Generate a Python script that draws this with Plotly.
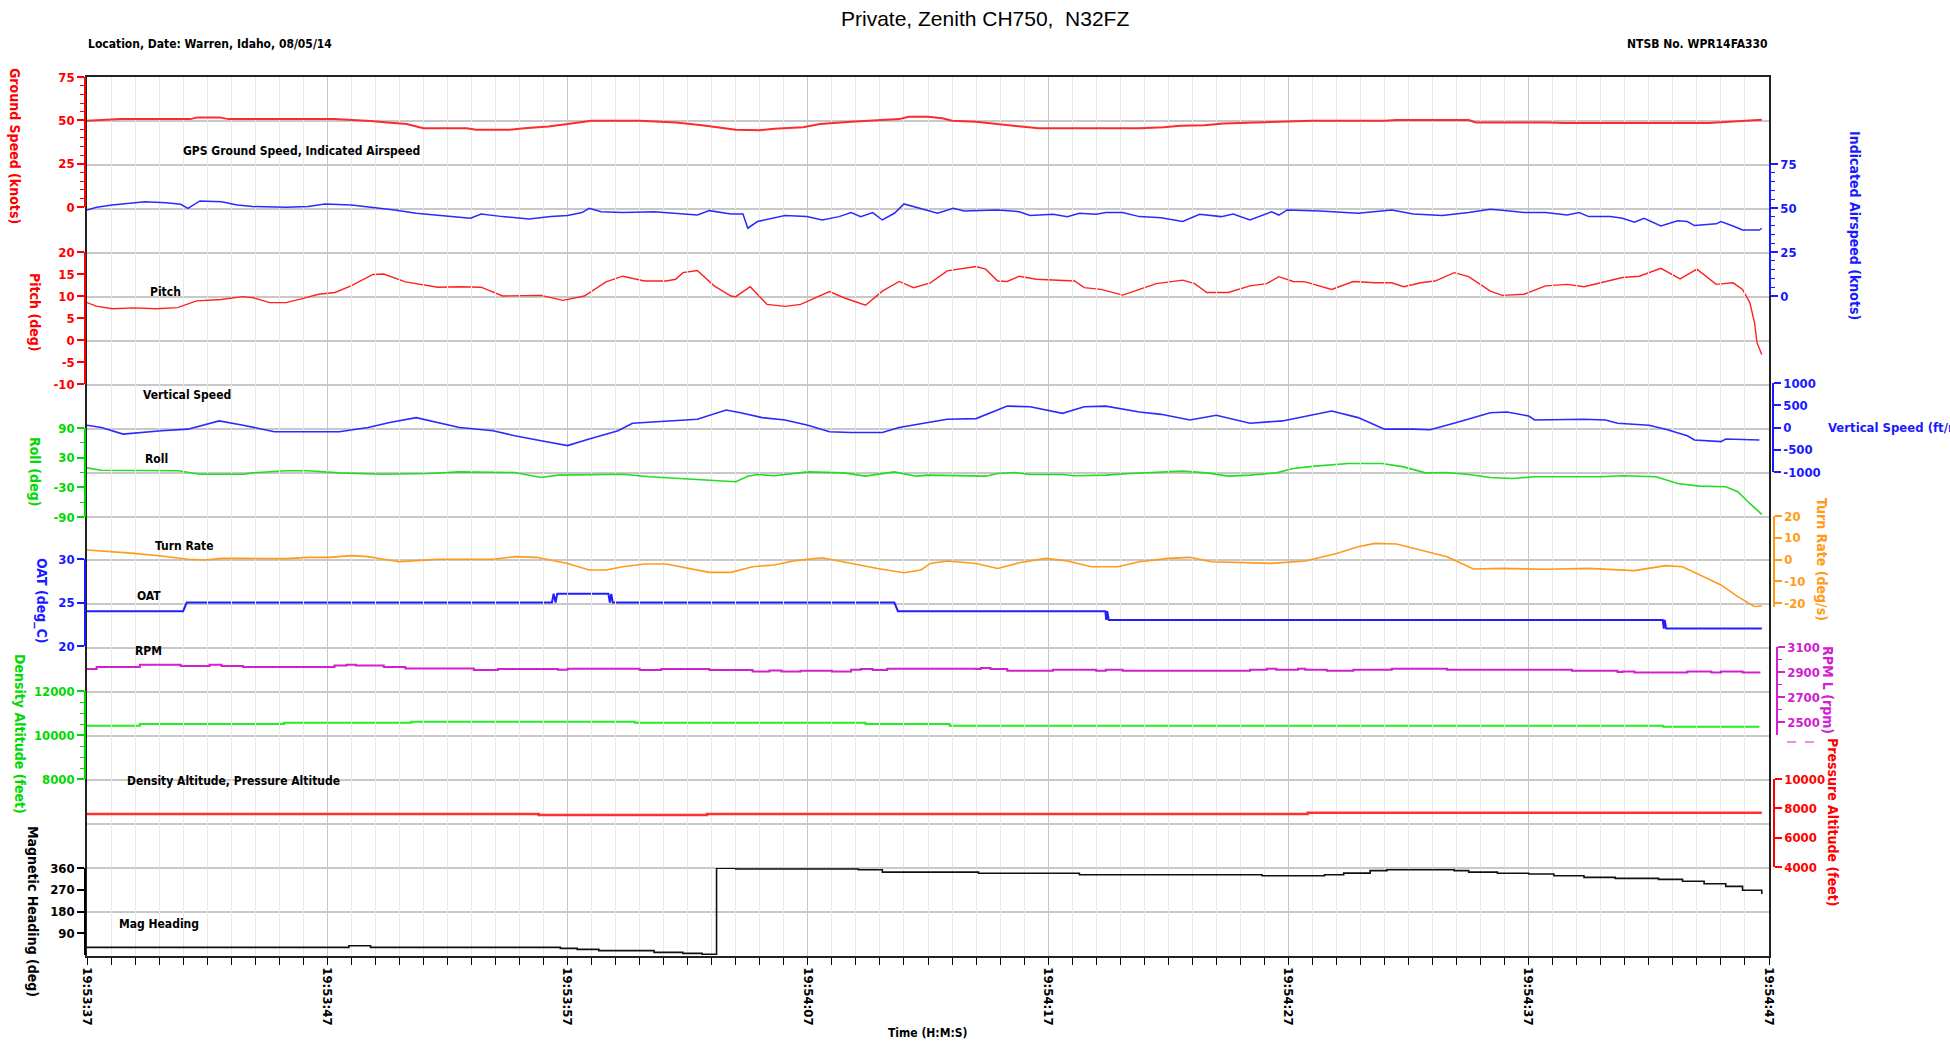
import plotly.graph_objects as go

# ---------------- DATA (time in seconds after 19:53:37) ----------------
time_tick_vals = [0, 10, 20, 30, 40, 50, 60, 70]
time_tick_labels = ["19:53:37", "19:53:47", "19:53:57", "19:54:07",
                    "19:54:17", "19:54:27", "19:54:37", "19:54:47"]

gs_time = [0, 1.4, 4.3, 4.6, 5.5, 5.9, 10.3, 11.2, 11.8, 12.5, 13.3, 14.0, 15.8, 16.2, 17.6,
           18.2, 19.2, 20.0, 21.0, 23.0, 24.5, 25.6, 26.2, 27.0, 28.0, 28.6, 29.8, 30.5, 31.8,
           33.0, 33.8, 34.2, 35.0, 35.6, 36.0, 37.0, 38.0, 39.0, 39.6, 43.8, 44.8, 45.5, 46.5,
           47.3, 48.6, 49.8, 51.0, 54.0, 54.5, 57.5, 57.8, 60.8, 61.5, 67.5, 68.5, 69.7]
gs_knots = [49.8, 50.7, 50.7, 51.7, 51.7, 50.7, 50.7, 50.2, 49.6, 48.8, 47.9, 45.4, 45.4, 44.6, 44.6,
            45.4, 46.5, 47.9, 49.8, 49.8, 48.8, 47.2, 46.0, 44.6, 44.3, 45.2, 46.0, 47.9, 49.2,
            50.0, 50.7, 52.0, 52.0, 51.2, 49.8, 49.2, 47.9, 46.4, 45.4, 45.4, 46.0, 46.9, 47.2,
            48.2, 48.8, 49.2, 49.8, 49.8, 50.2, 50.2, 48.8, 48.8, 48.4, 48.4, 49.2, 50.4]

ias_time = [0, 0.4, 1.05, 1.7, 2.4, 3.3, 3.9, 4.2, 4.7, 5.6, 6.25, 6.9, 8.3, 9.2, 9.9, 11.0, 11.9,
            12.8, 13.7, 14.6, 15.5, 15.96, 16.4, 17.3, 18.4, 19.3, 20.0, 20.6, 20.9, 21.4, 22.3,
            23.6, 24.5, 25.4, 25.9, 26.8, 27.3, 27.5, 27.9, 29.05, 29.95, 30.6, 31.3, 31.8, 32.2,
            32.7, 33.1, 33.6, 34.0, 34.5, 35.0, 35.4, 36.05, 36.5, 37.9, 38.8, 39.25, 40.2, 40.8,
            41.3, 42.0, 42.4, 43.1, 43.8, 44.7, 45.6, 46.3, 47.2, 47.7, 48.4, 49.3, 49.6, 49.95,
            51.3, 52.9, 54.3, 55.2, 56.4, 57.5, 58.4, 59.1, 59.8, 60.7, 61.6, 62.1, 62.5, 63.4,
            63.9, 64.4, 64.8, 65.5, 66.2, 66.6, 66.9, 67.8, 68.0, 68.5, 68.9, 69.6, 69.7]
ias_knots = [48.9, 50.4, 51.7, 52.7, 53.6, 53.0, 52.1, 49.8, 54.0, 53.6, 51.7, 50.8, 50.4, 50.8, 52.3,
             51.7, 50.4, 48.9, 47.0, 45.7, 44.7, 44.2, 46.6, 45.1, 43.8, 45.1, 45.7, 47.4, 49.8,
             47.9, 47.5, 47.9, 47.0, 46.0, 48.5, 46.6, 46.6, 38.5, 42.3, 45.7, 45.1, 43.2, 45.1,
             47.4, 45.1, 47.4, 43.2, 47.0, 52.3, 50.4, 48.9, 47.0, 49.8, 48.3, 48.9, 47.9, 45.7,
             46.4, 45.1, 47.0, 46.4, 47.4, 47.4, 45.1, 44.5, 42.3, 46.4, 45.1, 46.6, 43.2, 47.9,
             46.0, 48.9, 48.3, 47.0, 48.9, 46.6, 45.7, 47.4, 49.3, 48.5, 47.4, 47.5, 46.0, 47.4,
             45.1, 45.1, 44.2, 41.9, 44.2, 39.8, 42.8, 42.3, 40.0, 41.0, 42.3, 39.8, 37.5, 37.5, 38.5]

pitch_time = [0, 0.38, 1.06, 1.96, 2.87, 3.77, 4.56, 5.58, 6.48, 6.93, 7.61, 8.28, 8.96, 9.64,
              10.32, 10.99, 11.9, 12.35, 13.25, 14.15, 14.6, 15.5, 16.4, 17.3, 18.2, 18.9, 19.8,
              20.7, 21.6, 22.3, 23.2, 24.1, 24.5, 24.8, 25.4, 26.1, 26.8, 27.0, 27.6, 28.3, 29.05,
              29.7, 30.9, 31.5, 32.4, 33.1, 33.8, 34.4, 35.1, 35.8, 37.0, 37.4, 37.9, 38.3, 38.8,
              39.5, 41.1, 41.5, 42.2, 43.1, 43.8, 44.5, 45.6, 46.1, 46.6, 47.5, 48.4, 49.1, 49.6,
              50.2, 50.7, 51.8, 52.7, 53.6, 54.3, 54.8, 55.5, 56.1, 56.9, 57.5, 58.4, 58.9, 59.8,
              60.7, 61.6, 62.3, 63.0, 63.9, 64.6, 65.5, 66.3, 67.0, 67.8, 68.5, 68.9, 69.2, 69.4,
              69.5, 69.7]
pitch_deg = [8.5, 7.7, 7.1, 7.3, 7.1, 7.35, 8.9, 9.2, 9.85, 9.6, 8.5, 8.5, 9.4, 10.4,
             10.8, 12.3, 14.9, 15.0, 13.2, 12.4, 12.0, 12.1, 12.0, 10.0, 10.0, 10.15, 9.0,
             10.0, 13.2, 14.5, 13.4, 13.4, 13.8, 15.3, 15.8, 12.3, 10.0, 9.85, 12.1, 8.1, 7.65,
             8.1, 11.0, 9.6, 7.9, 11.1, 13.3, 11.9, 13.0, 15.7, 16.7, 16.1, 13.4, 13.3, 14.5,
             13.8, 13.4, 11.9, 11.5, 10.2, 11.5, 12.8, 13.6, 12.8, 10.8, 10.8, 12.3, 12.8, 14.4,
             13.3, 13.2, 11.5, 13.3, 13.0, 13.0, 12.1, 13.0, 13.4, 15.3, 14.4, 11.1, 10.15, 10.4,
             12.3, 12.65, 12.1, 13.0, 14.2, 14.5, 16.3, 13.9, 16.1, 12.65, 13.0, 11.5, 8.5, 3.9,
             -0.6, -3.3]

vs_time = [0, 0.6, 1.5, 2.2, 3.1, 4.2, 5.5, 6.5, 7.8, 9.2, 10.5, 11.7, 12.6, 13.7, 14.6, 15.5,
           16.9, 17.8, 18.9, 20.0, 20.9, 22.1, 22.7, 23.6, 24.5, 25.4, 26.6, 27.2, 28.1, 29.05,
           30.0, 30.9, 31.8, 33.1, 33.8, 34.5, 35.0, 35.8, 37.0, 38.3, 39.25, 40.6, 41.5, 42.4,
           43.8, 44.7, 45.9, 47.0, 48.4, 49.75, 50.7, 51.8, 52.9, 54.0, 55.2, 55.9, 57.0, 58.4,
           59.1, 60.0, 60.25, 62.3, 63.2, 63.7, 65.0, 65.7, 66.6, 66.9, 68.0, 68.2, 69.6]
vs_fpm = [52, 0, -148, -111, -74, -37, 148, 52, -96, -96, -96, 0, 111, 222, 111, 0,
          -74, -185, -296, -407, -259, -74, 96, 126, 148, 185, 392, 333, 222, 170,
          52, -96, -111, -111, 0, 74, 111, 185, 200, 481, 466, 318, 466, 481,
          348, 296, 170, 274, 96, 148, 244, 370, 222, -37, -37, -52, 111, 333,
          348, 259, 170, 185, 170, 96, 52, -37, -185, -281, -318, -259, -281]

roll_time = [0, 0.6, 3.8, 4.7, 6.5, 6.9, 8.3, 9.2, 10.5, 12.3, 14.2, 15.5, 17.8, 18.4, 18.9,
             19.6, 22.3, 23.4, 24.5, 26.1, 27.0, 27.5, 27.9, 28.6, 29.3, 30.0, 31.5, 32.4, 33.6,
             34.5, 35.0, 37.4, 37.9, 38.6, 39.25, 40.6, 41.1, 42.4, 43.4, 45.6, 46.6, 47.5, 48.4,
             49.5, 50.2, 51.1, 52.5, 53.9, 54.8, 55.7, 56.6, 57.5, 58.4, 59.3, 60.25, 63.0, 63.9,
             65.3, 66.2, 67.1, 68.2, 68.7, 69.2, 69.7]
roll_deg = [9.4, 4.7, 3.4, -3.4, -3.4, -0.7, 3.4, 3.4, -0.7, -3.4, -2.0, 1.3, 0, -5.4, -10.1,
            -5.4, -3.4, -8.7, -12.1, -16.8, -18.8, -7.4, -4.0, -6.7, -2.0, 1.3, -0.7, -7.4, 1.3,
            -7.4, -5.4, -7.4, -2.0, 0, -4.0, -4.0, -6.7, -5.4, -2.0, 2.7, -0.7, -7.4, -5.4,
            -0.7, 8.1, 12.8, 18.2, 18.2, 11.4, -0.7, 0, -4.0, -10.1, -12.1, -8.7, -8.7, -6.7,
            -8.7, -22.2, -27.6, -28.9, -39.0, -62.6, -84.8]

turn_time = [0, 1.06, 1.96, 3.1, 4.2, 4.9, 5.6, 6.5, 8.3, 9.2, 10.1, 11.0, 11.7, 12.35, 13.0,
             13.7, 14.6, 16.9, 17.8, 18.7, 19.3, 20.0, 20.9, 21.6, 22.3, 23.2, 24.1, 25.0, 25.9,
             26.8, 27.7, 28.6, 29.5, 30.6, 31.8, 32.9, 34.0, 34.7, 35.1, 35.8, 37.0, 37.9, 38.8,
             39.9, 40.8, 41.8, 42.9, 43.8, 45.0, 45.9, 46.8, 47.9, 49.3, 50.7, 52.0, 52.9, 53.6,
             54.5, 55.7, 56.6, 57.7, 58.9, 60.7, 62.5, 64.4, 65.7, 66.4, 67.1, 68.0, 68.7, 69.4,
             69.7]
turn_dps = [4.4, 3.6, 2.8, 1.6, 0.1, -0.2, 0.5, 0.5, 0.4, 1.0, 1.0, 1.8, 1.3, 0.1, -1.0,
            -0.5, 0.1, 0.1, 1.3, 1.0, -0.2, -1.8, -4.8, -4.8, -3.3, -2.1, -2.1, -4.1, -5.9,
            -5.9, -3.3, -2.5, -0.5, 0.8, -1.8, -4.1, -6.1, -4.8, -1.8, -0.7, -1.8, -4.1, -1.5,
            0.5, -0.7, -3.3, -3.3, -1.0, 0.5, 1.0, -1.0, -1.3, -1.8, -0.7, 2.8, 5.9, 7.4,
            7.1, 3.6, 1.3, -4.4, -4.1, -4.5, -4.1, -5.1, -2.8, -3.3, -7.1, -11.7, -17.1, -21.7,
            -21.4]

oat_time = [0, 4.0, 4.15, 19.35, 19.42, 19.5, 19.57, 19.65, 21.7, 21.76, 21.82, 21.88, 33.6, 33.75,
            42.38, 42.42, 42.46, 42.52, 65.58, 65.62, 65.66, 65.72, 69.7]
oat_degc = [24, 24, 25, 25, 26, 25, 26, 26, 26, 25, 26, 25, 25, 24,
            24, 23, 24, 23, 23, 22, 23, 22, 22]

rpm_time = [0, 0.4, 2.2, 3.9, 5.1, 5.6, 6.5, 10.3, 10.8, 11.2, 12.35, 13.25, 16.1, 16.6, 17.1,
            19.6, 20.0, 23.0, 23.9, 25.9, 26.1, 27.7, 28.4, 28.9, 29.7, 31.0, 31.8, 32.2, 32.7,
            33.3, 37.0, 37.2, 37.6, 38.3, 40.2, 42.0, 42.4, 43.1, 48.4, 49.1, 49.5, 50.4, 50.7,
            51.6, 52.7, 54.3, 56.6, 61.8, 63.7, 63.9, 64.4, 66.6, 67.6, 68.0, 68.9, 69.6]
rpm_vals = [2924, 2940, 2959, 2948, 2959, 2948, 2940, 2953, 2959, 2953, 2940, 2929, 2916, 2916, 2924,
            2919, 2927, 2916, 2924, 2916, 2916, 2905, 2913, 2905, 2911, 2905, 2919, 2924, 2916,
            2927, 2924, 2932, 2924, 2911, 2919, 2911, 2919, 2911, 2919, 2927, 2919, 2927, 2919,
            2911, 2919, 2927, 2919, 2911, 2900, 2905, 2897, 2905, 2897, 2905, 2897, 2905]

dens_alt_time = [0, 2.2, 8.2, 13.5, 22.8, 32.4, 35.9, 65.6, 69.6]
dens_alt_ft = [10423, 10500, 10561, 10606, 10561, 10500, 10423, 10379, 10379]

press_alt_time = [0, 18.8, 25.8, 50.8, 69.7]
press_alt_ft = [7614, 7546, 7614, 7705, 7705]

mag_hdg_time = [0, 10.9, 11.8, 19.7, 20.4, 21.3, 23.6, 24.8, 25.6, 26.2, 27.0, 32.1, 33.1, 37.1,
                41.3, 48.9, 51.5, 52.3, 53.4, 54.1, 56.9, 57.5, 58.7, 60.0, 61.05, 62.3, 63.6,
                65.4, 66.4, 67.3, 68.2, 68.9, 69.7]
mag_hdg_deg = [31.6, 38, 31.6, 27.4, 23.3, 17.9, 11, 6.9, 2.8, 359, 356, 353, 343, 338,
               332, 328, 332, 339, 349, 353, 349, 343, 338, 335, 328, 321, 317,
               313, 305, 295, 284, 268, 252]

# ---------------- LAYOUT HELPERS (pixel -> paper) ----------------
W, H = 1950, 1046
L, R, T, B = 85, 1778, 77, 956
PW, PH = R - L, B - T


def px(x):
    return (x - L) / PW


def py(y):
    return (B - y) / PH


NARROW = "Liberation Sans Narrow, Arial Narrow, DejaVu Sans Condensed, sans-serif"
RED = "#ff0000"
BLUE = "#1a1aff"
GREEN = "#00d800"
ORANGE = "#ff9a1a"
MAGENTA = "#d020d0"
BLACK = "#000000"

fig = go.Figure()
# anchor trace for the main (grid) subplot so the time axis sits at the bottom
fig.add_trace(go.Scatter(x=[0], y=[0], xaxis="x", yaxis="y", mode="markers",
                         marker=dict(opacity=0), hoverinfo="skip", showlegend=False))


def add_series(t, v, axis, color, width, shape="linear"):
    fig.add_trace(go.Scatter(x=t, y=v, mode="lines", xaxis="x", yaxis=axis,
                             line=dict(color=color, width=width, shape=shape),
                             hoverinfo="skip", showlegend=False))


add_series(gs_time, gs_knots, "y2", "#ff2a2a", 2)
add_series(ias_time, ias_knots, "y8", "#2a2aff", 1.5)
add_series(pitch_time, pitch_deg, "y3", "#ff2020", 1.4)
add_series(vs_time, vs_fpm, "y9", "#2a2aff", 1.6)
add_series(roll_time, roll_deg, "y4", "#22dd22", 1.6)
add_series(turn_time, turn_dps, "y10", ORANGE, 1.6)
add_series(oat_time, oat_degc, "y5", "#2020ff", 2)
add_series(rpm_time, rpm_vals, "y11", MAGENTA, 2, "hv")
add_series(dens_alt_time, dens_alt_ft, "y6", "#22ee22", 2, "hv")
add_series(press_alt_time, press_alt_ft, "y12", "#ff3030", 2.5, "hv")
add_series(mag_hdg_time, mag_hdg_deg, "y7", "#101010", 1.6, "hv")

TICK_SIZE = 13


def tickfont(color):
    return dict(family=NARROW, size=TICK_SIZE, color=color, weight="bold")


def data_axis(ytop, ybot, vtop, vbot, color, side, xpix, tickvals, minor=None):
    d = dict(domain=[py(ybot), py(ytop)], range=[vbot, vtop], anchor="free",
             position=px(xpix), side=side, showline=True, linecolor=color, linewidth=1.5,
             ticks="outside", ticklen=7, tickwidth=1.5, tickcolor=color,
             tickmode="array", tickvals=tickvals, ticktext=[str(v) for v in tickvals],
             tickfont=tickfont(color), showgrid=False, zeroline=False, fixedrange=True)
    if minor is not None:
        d["minor"] = dict(tickmode="array", tickvals=minor, ticks="outside", ticklen=4,
                          tickcolor=color, tickwidth=1, showgrid=False)
    return d


layout = dict(
    width=W, height=H,
    margin=dict(l=L, r=W - R, t=T, b=H - B, pad=0),
    paper_bgcolor="white", plot_bgcolor="rgba(0,0,0,0)",
    showlegend=False, hovermode=False,
    xaxis=dict(domain=[px(87), px(1769)], range=[0, 70], anchor="y",
               tickmode="array", tickvals=time_tick_vals, ticktext=time_tick_labels,
               tickangle=90, ticks="outside", ticklen=7, tickcolor="black", tickwidth=1.2,
               tickfont=dict(family=NARROW, size=13, color="black", weight="bold"),
               showgrid=True, gridcolor="#c6c6c6", gridwidth=1,
               minor=dict(dtick=1, tick0=0, showgrid=True, gridcolor="#e8e8e8", gridwidth=1,
                          ticks="outside", ticklen=7, tickcolor="black", tickwidth=1),
               showline=True, linecolor="#222222", linewidth=1.5, mirror=True,
               zeroline=False, fixedrange=True),
    yaxis=dict(domain=[0, 1], range=[0, 20], dtick=1, tick0=0, showticklabels=False,
               ticks="", showgrid=True, gridcolor="#c8c8c8", gridwidth=2,
               showline=True, linecolor="#222222", linewidth=1.5, mirror=True,
               zeroline=False, fixedrange=True),
    # left-side axes
    yaxis2=data_axis(77, 207, 75, 0, RED, "left", L, [0, 25, 50, 75],
                     [5, 10, 15, 20, 30, 35, 40, 45, 55, 60, 65, 70]),
    yaxis3=data_axis(252, 384, 20, -10, RED, "left", L, [-10, -5, 0, 5, 10, 15, 20]),
    yaxis4=data_axis(428, 517, 90, -90, GREEN, "left", L, [-90, -30, 30, 90], [-60, 0, 60]),
    yaxis5=data_axis(559, 646, 30, 20, BLUE, "left", L, [20, 25, 30]),
    yaxis6=data_axis(691, 779, 12000, 8000, GREEN, "left", L, [8000, 10000, 12000],
                     [8500, 9000, 9500, 10500, 11000, 11500]),
    yaxis7=data_axis(868, 955, 360, 0, BLACK, "left", L, [90, 180, 270, 360]),
    # right-side axes
    yaxis8=data_axis(164, 296, 75, 0, BLUE, "right", 1770, [0, 25, 50, 75],
                     [5, 10, 15, 20, 30, 35, 40, 45, 55, 60, 65, 70]),
    yaxis9=data_axis(383, 472, 1000, -1000, BLUE, "right", 1773, [-1000, -500, 0, 500, 1000]),
    yaxis10=data_axis(516, 607.35, 20, -22, ORANGE, "right", 1774, [-20, -10, 0, 10, 20]),
    yaxis11=data_axis(647, 735, 3100, 2396, MAGENTA, "right", 1777, [2500, 2700, 2900, 3100],
                      [2600, 2800, 3000]),
    yaxis12=data_axis(779, 867, 10000, 4000, RED, "right", 1774, [4000, 6000, 8000, 10000]),
)
fig.update_layout(**layout)

ann = []


def label(text, x, y, size=12, color="black", xanchor="left", angle=0, family=NARROW,
          weight="bold"):
    ann.append(dict(text=text, x=px(x), y=py(y), xref="paper", yref="paper",
                    xanchor=xanchor, yanchor="middle", showarrow=False, textangle=angle,
                    font=dict(family=family, size=size, color=color, weight=weight)))


# header
label("Private, Zenith CH750,  N32FZ", 985, 19, size=21, xanchor="center",
      family="Liberation Sans, Arial, sans-serif", weight="normal")
label("Location, Date: Warren, Idaho, 08/05/14", 86, 44, size=12)
label("NTSB No. WPR14FA330", 1770, 44, size=12, xanchor="right")

# in-plot parameter labels
label("GPS Ground Speed, Indicated Airspeed", 181, 151)
label("Pitch", 148, 292)
label("Vertical Speed", 141, 395)
label("Roll", 143, 459)
label("Turn Rate", 153, 546)
label("OAT", 135, 596)
label("RPM", 133, 651)
label("Density Altitude, Pressure Altitude", 125, 781)
label("Mag Heading", 117, 924)

# axis titles (left)
label("Ground Speed (knots)", 15, 146, size=14, color=RED, xanchor="center", angle=90)
label("Pitch (deg)", 35, 312, size=14, color=RED, xanchor="center", angle=90)
label("Roll (deg)", 35, 471, size=14, color=GREEN, xanchor="center", angle=90)
label("OAT (deg_C)", 42, 601, size=14, color=BLUE, xanchor="center", angle=90)
label("Density Altitude (feet)", 20, 734, size=14, color=GREEN, xanchor="center", angle=90)
label("Magnetic Heading (deg)", 33, 911, size=14, color=BLACK, xanchor="center", angle=90)
# axis titles (right)
label("Indicated Airspeed (knots)", 1855, 225, size=14, color=BLUE, xanchor="center", angle=90)
label("Vertical Speed (ft/min)", 1826, 428, size=13, color=BLUE)
label("Turn Rate (deg/s)", 1822, 559, size=14, color=ORANGE, xanchor="center", angle=90)
label("RPM L (rpm)", 1828, 690, size=14, color=MAGENTA, xanchor="center", angle=90)
label("Pressure Altitude (feet)", 1833, 823, size=14, color=RED, xanchor="center", angle=90)
# x title
label("Time (H:M:S)", 928, 1033, size=12, xanchor="center")

fig.update_layout(annotations=ann)

fig.add_shape(type="line", xref="paper", yref="paper", x0=px(1787), x1=px(1816),
              y0=py(742), y1=py(742), line=dict(color=MAGENTA, width=1.2, dash="dash"))

fig.write_html("out.html", config={"displayModeBar": False},
               post_script="document.body.style.margin='0px';"
                           "document.body.style.overflow='hidden';")
